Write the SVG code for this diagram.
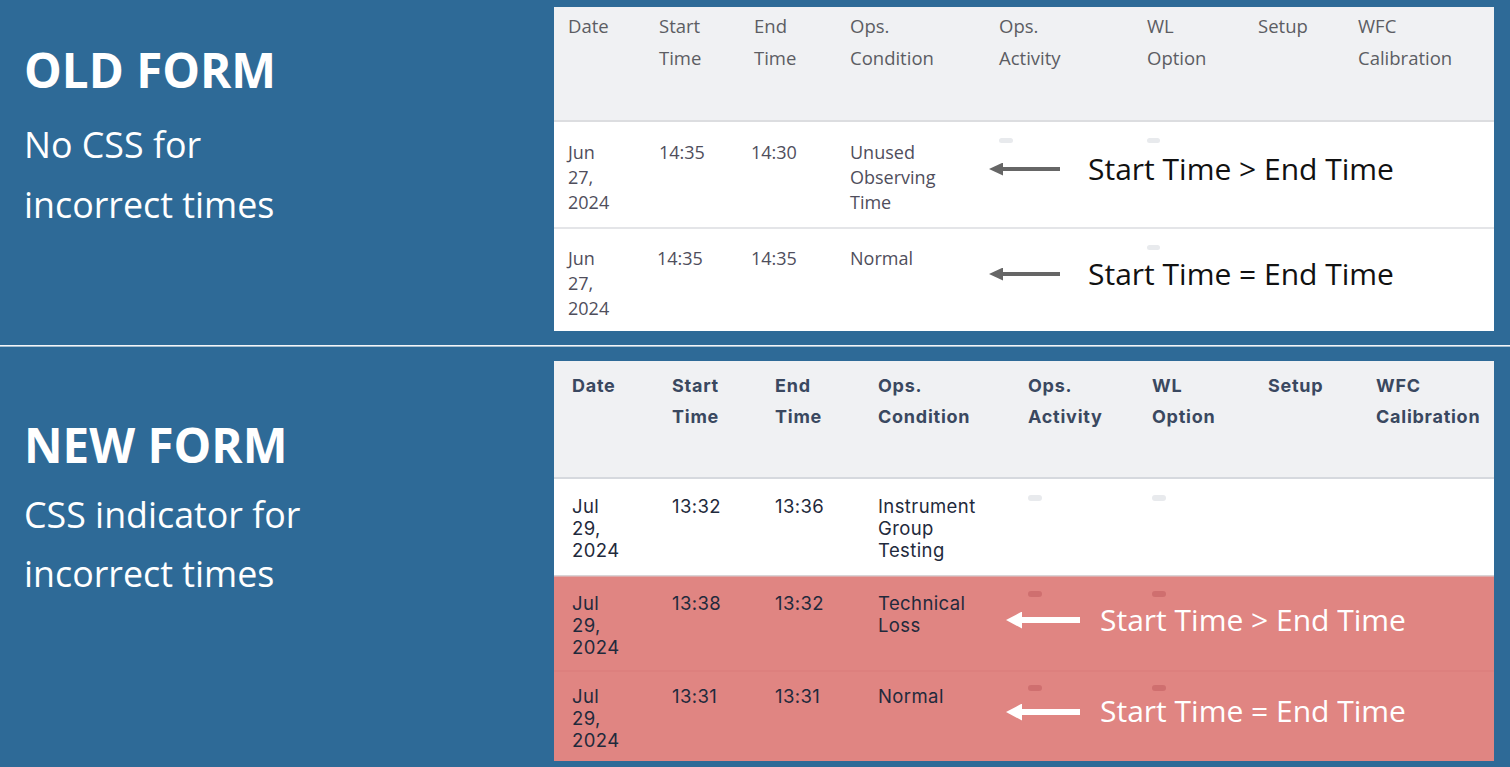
<svg xmlns="http://www.w3.org/2000/svg" width="1510" height="767" viewBox="0 0 1510 767">
<style>
.bg{fill:#2e6a97}
.title{font-family:"Open Sans",sans-serif;font-weight:700;font-size:47.5px;fill:#ffffff}
.sub{font-family:"Open Sans",sans-serif;font-size:35.8px;fill:#ffffff}
.oh{font-family:"Open Sans",sans-serif;font-size:18.5px;fill:#5c5d63}
.ob{font-family:"Open Sans",sans-serif;font-size:18px;fill:#4f4e5c}
.nh{font-family:Inter,"Liberation Sans",sans-serif;font-weight:700;font-size:18px;letter-spacing:0.75px;fill:#3a4860}
.nb{font-family:Inter,"Liberation Sans",sans-serif;font-size:18.5px;letter-spacing:0.4px;fill:#1f2a3c}
.note{font-family:"Open Sans",sans-serif;font-size:30px}
.head{fill:#f0f1f3}
.pill{fill:#e8eaed}
.pillr{fill:#cf6f6f}
</style>
<defs>
<marker id="ahGray" markerUnits="userSpaceOnUse" viewBox="0 0 14 13" markerWidth="14" markerHeight="13" refX="3" refY="6.5" orient="auto">
<path d="M0,0 L14,6.5 L0,13 Z" fill="#666666"/>
</marker>
<marker id="ahWhite" markerUnits="userSpaceOnUse" viewBox="0 0 16 17" markerWidth="16" markerHeight="17" refX="3" refY="8.5" orient="auto">
<path d="M0,0 L16,8.5 L0,17 Z" fill="#ffffff"/>
</marker>
</defs>
<rect class="bg" x="0" y="0" width="1510" height="767"/>
<rect x="0" y="345" width="1510" height="1.6" fill="#f4f6f8"/>

<g id="old-label">
<text class="title" x="24" y="88">OLD FORM</text>
<text class="sub" x="24" y="158">No CSS for</text>
<text class="sub" x="24" y="218">incorrect times</text>
</g>

<g id="new-label">
<text class="title" x="24" y="463">NEW FORM</text>
<text class="sub" x="24" y="528">CSS indicator for</text>
<text class="sub" x="24" y="587">incorrect times</text>
</g>

<g id="old-table">
<rect x="554" y="7" width="940" height="324" fill="#ffffff"/>
<rect class="head" x="554" y="7" width="940" height="114"/>
<rect x="554" y="120" width="940" height="2" fill="#dcdde0"/>
<rect x="554" y="227" width="940" height="2" fill="#e4e5e8"/>
<g id="old-header">
<text class="oh" x="568" y="33">Date</text>
<text class="oh" x="659" y="33">Start</text>
<text class="oh" x="659" y="65">Time</text>
<text class="oh" x="754" y="33">End</text>
<text class="oh" x="754" y="65">Time</text>
<text class="oh" x="850" y="33">Ops.</text>
<text class="oh" x="850" y="65">Condition</text>
<text class="oh" x="999" y="33">Ops.</text>
<text class="oh" x="999" y="65">Activity</text>
<text class="oh" x="1147" y="33">WL</text>
<text class="oh" x="1147" y="65">Option</text>
<text class="oh" x="1258" y="33">Setup</text>
<text class="oh" x="1358" y="33">WFC</text>
<text class="oh" x="1358" y="65">Calibration</text>
</g>
<g id="old-row1">
<text class="ob" x="568" y="159">Jun</text>
<text class="ob" x="568" y="184">27,</text>
<text class="ob" x="568" y="209">2024</text>
<text class="ob" x="659" y="159">14:35</text>
<text class="ob" x="751" y="159">14:30</text>
<text class="ob" x="850" y="159">Unused</text>
<text class="ob" x="850" y="184">Observing</text>
<text class="ob" x="850" y="209">Time</text>
<rect class="pill" x="999" y="138" width="14" height="5" rx="2.5"/>
<rect class="pill" x="1147" y="138" width="13" height="5" rx="2.5"/>
</g>
<g id="old-row2">
<text class="ob" x="568" y="265">Jun</text>
<text class="ob" x="568" y="290">27,</text>
<text class="ob" x="568" y="315">2024</text>
<text class="ob" x="657" y="265">14:35</text>
<text class="ob" x="751" y="265">14:35</text>
<text class="ob" x="850" y="265">Normal</text>
<rect class="pill" x="1147" y="245" width="13" height="5" rx="2.5"/>
</g>
</g>

<g id="new-table">
<rect x="554" y="361" width="940" height="400" fill="#ffffff"/>
<rect class="head" x="554" y="361" width="940" height="117"/>
<rect x="554" y="477" width="940" height="2" fill="#d6d9de"/>
<rect x="554" y="575" width="940" height="186" fill="#e08582"/>
<rect x="554" y="575" width="940" height="1.5" fill="#d9d4d6"/>
<rect x="554" y="670.5" width="940" height="1" fill="#d97d7b"/>
<g id="new-header">
<text class="nh" x="572" y="392">Date</text>
<text class="nh" x="672" y="392">Start</text>
<text class="nh" x="672" y="423">Time</text>
<text class="nh" x="775" y="392">End</text>
<text class="nh" x="775" y="423">Time</text>
<text class="nh" x="878" y="392">Ops.</text>
<text class="nh" x="878" y="423">Condition</text>
<text class="nh" x="1028" y="392">Ops.</text>
<text class="nh" x="1028" y="423">Activity</text>
<text class="nh" x="1152" y="392">WL</text>
<text class="nh" x="1152" y="423">Option</text>
<text class="nh" x="1268" y="392">Setup</text>
<text class="nh" x="1376" y="392">WFC</text>
<text class="nh" x="1376" y="423">Calibration</text>
</g>
<g id="new-row1">
<text class="nb" x="572" y="513">Jul</text>
<text class="nb" x="572" y="535">29,</text>
<text class="nb" x="572" y="557">2024</text>
<text class="nb" x="672" y="513">13:32</text>
<text class="nb" x="775" y="513">13:36</text>
<text class="nb" x="878" y="513">Instrument</text>
<text class="nb" x="878" y="535">Group</text>
<text class="nb" x="878" y="557">Testing</text>
<rect class="pill" x="1028" y="495" width="14" height="6" rx="3"/>
<rect class="pill" x="1152" y="495" width="14" height="6" rx="3"/>
</g>
<g id="new-row2">
<text class="nb" x="572" y="610">Jul</text>
<text class="nb" x="572" y="632">29,</text>
<text class="nb" x="572" y="654">2024</text>
<text class="nb" x="672" y="610">13:38</text>
<text class="nb" x="775" y="610">13:32</text>
<text class="nb" x="878" y="610">Technical</text>
<text class="nb" x="878" y="632">Loss</text>
<rect class="pillr" x="1028" y="591" width="14" height="6" rx="3"/>
<rect class="pillr" x="1152" y="591" width="14" height="6" rx="3"/>
</g>
<g id="new-row3">
<text class="nb" x="572" y="703">Jul</text>
<text class="nb" x="572" y="725">29,</text>
<text class="nb" x="572" y="747">2024</text>
<text class="nb" x="672" y="703">13:31</text>
<text class="nb" x="775" y="703">13:31</text>
<text class="nb" x="878" y="703">Normal</text>
<rect class="pillr" x="1028" y="685" width="14" height="6" rx="3"/>
<rect class="pillr" x="1152" y="685" width="14" height="6" rx="3"/>
</g>
</g>

<g id="notes">
<text class="note" x="1088" y="180" fill="#111111">Start Time &gt; End Time</text>
<text class="note" x="1088" y="285" fill="#111111">Start Time = End Time</text>
<text class="note" x="1100" y="631" fill="#ffffff">Start Time &gt; End Time</text>
<text class="note" x="1100" y="722" fill="#ffffff">Start Time = End Time</text>
</g>

<g id="connectors">
<line x1="1060" y1="169" x2="1000" y2="169" stroke="#666666" stroke-width="4" marker-end="url(#ahGray)"/>
<line x1="1060" y1="274" x2="1000" y2="274" stroke="#666666" stroke-width="4" marker-end="url(#ahGray)"/>
<line x1="1080" y1="620" x2="1019" y2="620" stroke="#ffffff" stroke-width="6" marker-end="url(#ahWhite)"/>
<line x1="1080" y1="712" x2="1019" y2="712" stroke="#ffffff" stroke-width="6" marker-end="url(#ahWhite)"/>
</g>
</svg>
